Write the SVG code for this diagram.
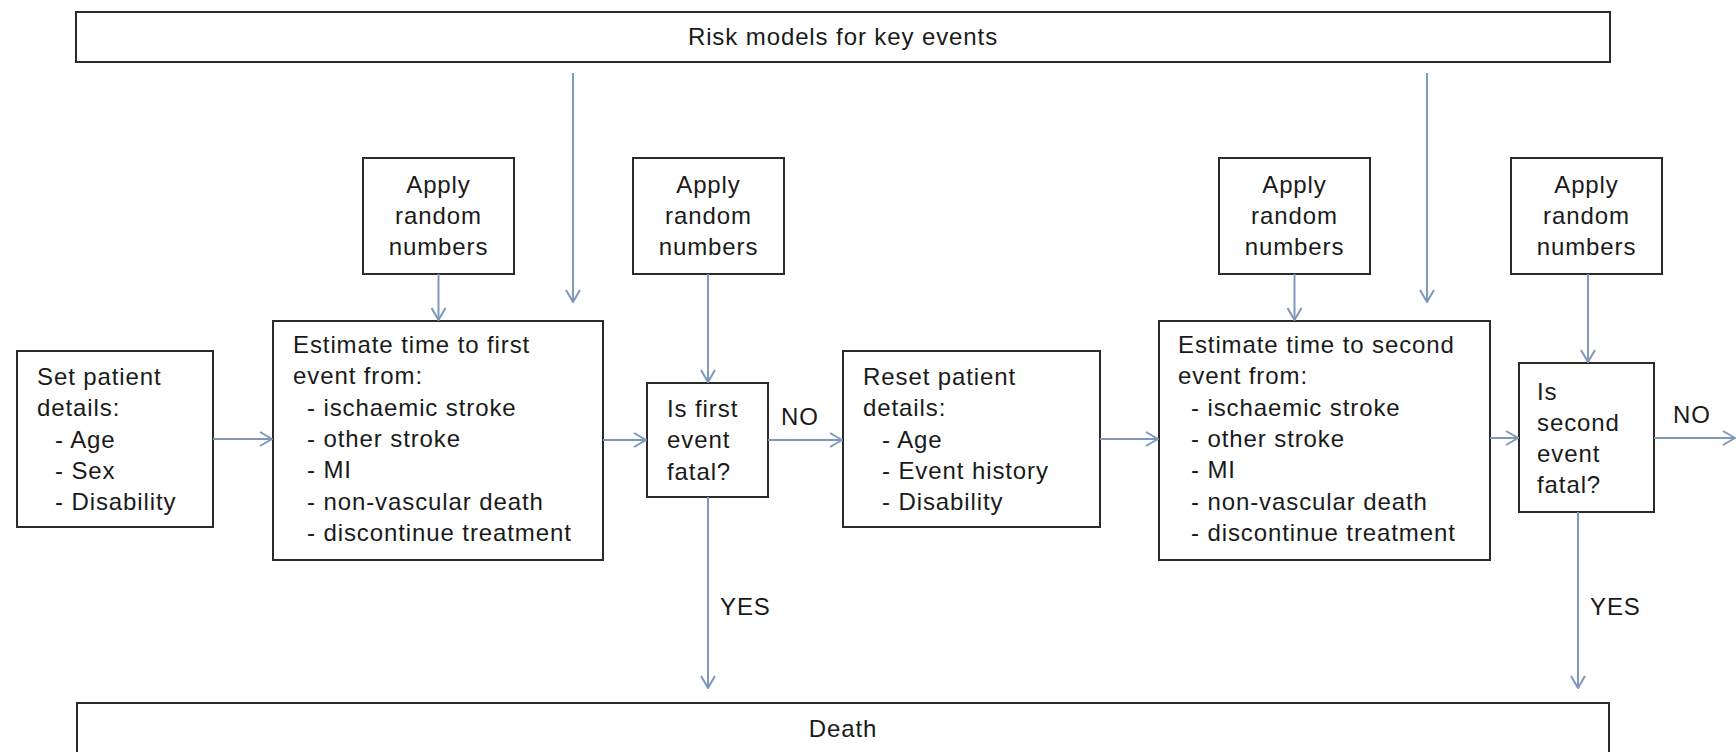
<svg xmlns="http://www.w3.org/2000/svg" width="1736" height="752" viewBox="0 0 1736 752">
  <style>
    .box { fill: #ffffff; stroke: #2b2b2b; stroke-width: 2; }
    .t { font-family: "Liberation Sans", Arial, sans-serif; font-size: 24px; fill: #1a1a1a; letter-spacing: 0.9px; }
    .c { text-anchor: middle; }
    .lbl { font-family: "Liberation Sans", Arial, sans-serif; font-size: 22px; fill: #1a1a1a; }
    .arrow { fill: none; stroke: #7d98ba; stroke-width: 2; marker-end: url(#open); }
  </style>
  <defs>
    <marker id="open" viewBox="0 0 14 16" refX="13" refY="8" markerWidth="14" markerHeight="16" markerUnits="userSpaceOnUse" orient="auto">
      <path d="M1,1 L13,8 L1,15" fill="none" stroke="#7d98ba" stroke-width="2"/>
    </marker>
  </defs>
  <rect width="1736" height="752" fill="#ffffff"/>

  <g id="risk-models">
    <rect class="box" x="76" y="12" width="1534" height="50"/>
    <text class="t c" x="843" y="45">Risk models for key events</text>
  </g>

  <g id="apply-1">
    <rect class="box" x="363" y="158" width="151" height="116"/>
    <text class="t c" x="438.5" y="193">Apply</text>
    <text class="t c" x="438.5" y="224">random</text>
    <text class="t c" x="438.5" y="255">numbers</text>
  </g>
  <g id="apply-2">
    <rect class="box" x="633" y="158" width="151" height="116"/>
    <text class="t c" x="708.5" y="193">Apply</text>
    <text class="t c" x="708.5" y="224">random</text>
    <text class="t c" x="708.5" y="255">numbers</text>
  </g>
  <g id="apply-3">
    <rect class="box" x="1219" y="158" width="151" height="116"/>
    <text class="t c" x="1294.5" y="193">Apply</text>
    <text class="t c" x="1294.5" y="224">random</text>
    <text class="t c" x="1294.5" y="255">numbers</text>
  </g>
  <g id="apply-4">
    <rect class="box" x="1511" y="158" width="151" height="116"/>
    <text class="t c" x="1586.5" y="193">Apply</text>
    <text class="t c" x="1586.5" y="224">random</text>
    <text class="t c" x="1586.5" y="255">numbers</text>
  </g>

  <g id="set-patient">
    <rect class="box" x="17" y="351" width="196" height="176"/>
    <text class="t" x="37" y="385">Set patient</text>
    <text class="t" x="37" y="416">details:</text>
    <text class="t" x="55" y="448">- Age</text>
    <text class="t" x="55" y="479">- Sex</text>
    <text class="t" x="55" y="510">- Disability</text>
  </g>

  <g id="estimate-first">
    <rect class="box" x="273" y="321" width="330" height="239"/>
    <text class="t" x="293" y="353">Estimate time to first</text>
    <text class="t" x="293" y="384">event from:</text>
    <text class="t" x="307" y="416">- ischaemic stroke</text>
    <text class="t" x="307" y="447">- other stroke</text>
    <text class="t" x="307" y="478">- MI</text>
    <text class="t" x="307" y="510">- non-vascular death</text>
    <text class="t" x="307" y="541">- discontinue treatment</text>
  </g>

  <g id="first-fatal">
    <rect class="box" x="647" y="383" width="121" height="114"/>
    <text class="t" x="667" y="417">Is first</text>
    <text class="t" x="667" y="448">event</text>
    <text class="t" x="667" y="480">fatal?</text>
  </g>

  <g id="reset-patient">
    <rect class="box" x="843" y="351" width="257" height="176"/>
    <text class="t" x="863" y="385">Reset patient</text>
    <text class="t" x="863" y="416">details:</text>
    <text class="t" x="882" y="448">- Age</text>
    <text class="t" x="882" y="479">- Event history</text>
    <text class="t" x="882" y="510">- Disability</text>
  </g>

  <g id="estimate-second">
    <rect class="box" x="1159" y="321" width="331" height="239"/>
    <text class="t" x="1178" y="353">Estimate time to second</text>
    <text class="t" x="1178" y="384">event from:</text>
    <text class="t" x="1191" y="416">- ischaemic stroke</text>
    <text class="t" x="1191" y="447">- other stroke</text>
    <text class="t" x="1191" y="478">- MI</text>
    <text class="t" x="1191" y="510">- non-vascular death</text>
    <text class="t" x="1191" y="541">- discontinue treatment</text>
  </g>

  <g id="second-fatal">
    <rect class="box" x="1519" y="363" width="135" height="149"/>
    <text class="t" x="1537" y="400">Is</text>
    <text class="t" x="1537" y="431">second</text>
    <text class="t" x="1537" y="462">event</text>
    <text class="t" x="1537" y="493">fatal?</text>
  </g>

  <g id="death">
    <rect class="box" x="77" y="703" width="1532" height="70"/>
    <text class="t c" x="843" y="737">Death</text>
  </g>

  <g id="connectors">
    <!-- risk models feed both time-to-event estimates -->
    <line class="arrow" x1="573" y1="73" x2="573" y2="302"/>
    <line class="arrow" x1="1427" y1="73" x2="1427" y2="302"/>
    <!-- random numbers into each step -->
    <line class="arrow" x1="438.5" y1="274" x2="438.5" y2="320"/>
    <line class="arrow" x1="708" y1="274" x2="708" y2="382"/>
    <line class="arrow" x1="1294.5" y1="274" x2="1294.5" y2="320"/>
    <line class="arrow" x1="1588" y1="274" x2="1588" y2="362"/>
    <!-- main horizontal flow -->
    <line class="arrow" x1="213" y1="439" x2="272" y2="439"/>
    <line class="arrow" x1="603" y1="440" x2="646" y2="440"/>
    <line class="arrow" x1="768" y1="440" x2="842" y2="440"/>
    <line class="arrow" x1="1100" y1="439" x2="1158" y2="439"/>
    <line class="arrow" x1="1490" y1="438" x2="1518" y2="438"/>
    <line class="arrow" x1="1654" y1="438" x2="1735" y2="438"/>
    <!-- fatal branches down to death -->
    <line class="arrow" x1="708" y1="497" x2="708" y2="688"/>
    <line class="arrow" x1="1578" y1="512" x2="1578" y2="688"/>
    <text class="t" x="781" y="425">NO</text>
    <text class="t" x="1673" y="423">NO</text>
    <text class="t" x="720" y="615">YES</text>
    <text class="t" x="1590" y="615">YES</text>
  </g>
</svg>
